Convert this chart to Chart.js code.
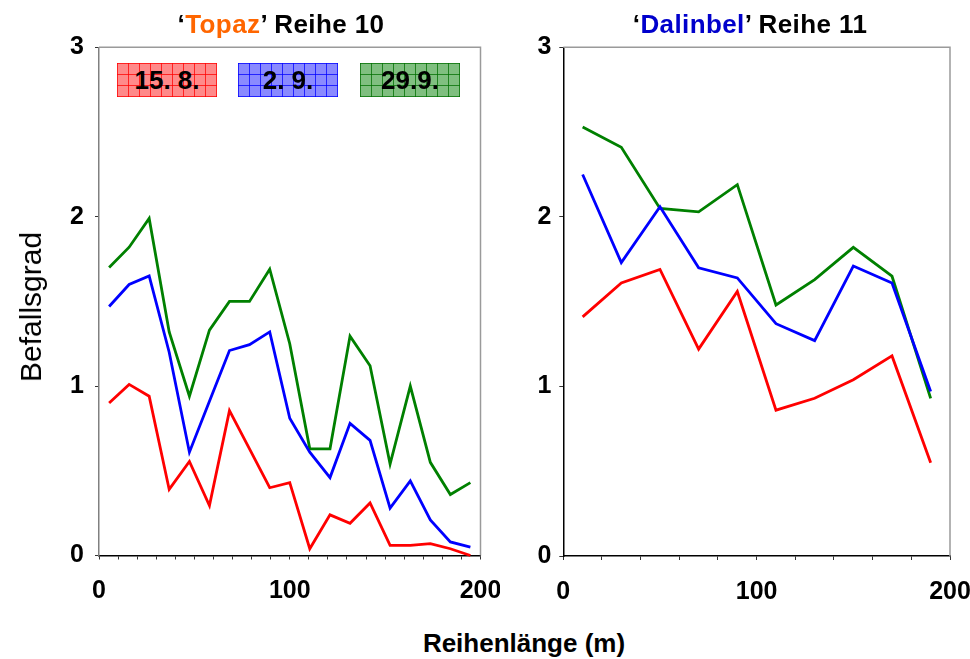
<!DOCTYPE html>
<html>
<head>
<meta charset="utf-8">
<script src="https://cdn.jsdelivr.net/npm/chart.js@4.4.1/dist/chart.umd.min.js"></script>
<style>
  html, body { margin:0; padding:0; background:#fff; }
  body { width:970px; height:659px; position:relative; overflow:hidden; font-family:"Liberation Sans", Arial, Helvetica, sans-serif; }
  .cv { position:absolute; top:0; }
  .title { position:absolute; top:11px; font-weight:bold; font-size:26px; line-height:26px; letter-spacing:0.4px; text-align:center; white-space:nowrap; color:#000; }
  .xtitle { position:absolute; left:324px; width:400px; top:630px; font-weight:bold; font-size:26px; line-height:26px; text-align:center; color:#000; }
  .ytitle { position:absolute; left:31px; top:307px; transform:translate(-50%,-50%) rotate(-90deg); font-size:30px; line-height:30px; white-space:nowrap; color:#000; }
  .leg { position:absolute; top:63px; width:100px; height:34px; font-weight:bold; font-size:26px; line-height:35px; text-align:center; color:#000; background-size:11px 11px; }
</style>
</head>
<body>
<div class="cv" style="left:0;width:500px;height:620px;"><canvas id="c1" width="500" height="620"></canvas></div>
<div class="cv" style="left:485px;width:485px;height:620px;"><canvas id="c2" width="485" height="620"></canvas></div>

<div class="title" style="left:131px;width:300px;">‘<span style="color:#ff6600">Topaz</span>’ Reihe 10</div>
<div class="title" style="left:600px;width:300px;">‘<span style="color:#0000cc">Dalinbel</span>’ Reihe 11</div>
<div class="ytitle">Befallsgrad</div>
<div class="xtitle">Reihenlänge (m)</div>

<div class="leg" id="l1" style="left:117px;background-color:#ff8a8a;background-image:linear-gradient(to right, rgba(255,0,0,0.75) 1px, transparent 1px),linear-gradient(to bottom, rgba(255,0,0,0.75) 1px, transparent 1px);"></div>
<div class="leg" id="l2" style="left:238px;background-color:#8a8aff;background-image:linear-gradient(to right, rgba(0,0,255,0.75) 1px, transparent 1px),linear-gradient(to bottom, rgba(0,0,255,0.75) 1px, transparent 1px);"></div>
<div class="leg" id="l3" style="left:360px;background-color:#80bf80;background-image:linear-gradient(to right, rgba(0,110,0,0.75) 1px, transparent 1px),linear-gradient(to bottom, rgba(0,110,0,0.75) 1px, transparent 1px);"></div>

<script>
// ---- data ----
const seriesLabels = ["15. 8.", "2. 9.", "29.9."];
const seriesColors = ["#ff0000", "#0000ff", "#008000"];

const xTopaz = [5.3, 15.8, 26.3, 36.8, 47.4, 57.9, 68.4, 78.9, 89.5, 100, 110.5, 121.1, 131.6, 142.1, 152.6, 163.2, 173.7, 184.2, 194.7];
const topaz_15_8 = [0.90, 1.01, 0.94, 0.39, 0.555, 0.295, 0.855, 0.63, 0.40, 0.43, 0.04, 0.24, 0.19, 0.31, 0.06, 0.06, 0.07, 0.04, 0.00];
const topaz_2_9  = [1.47, 1.60, 1.65, 1.20, 0.61, 0.91, 1.21, 1.245, 1.32, 0.81, 0.61, 0.46, 0.78, 0.68, 0.28, 0.44, 0.21, 0.08, 0.05];
const topaz_29_9 = [1.70, 1.82, 1.99, 1.32, 0.94, 1.33, 1.50, 1.50, 1.69, 1.25, 0.63, 0.63, 1.295, 1.12, 0.54, 1.00, 0.55, 0.36, 0.43];

const xDalinbel = [10, 30, 50, 70, 90, 110, 130, 150, 170, 190];
const dalinbel_15_8 = [1.41, 1.61, 1.69, 1.22, 1.56, 0.86, 0.93, 1.04, 1.18, 0.55];
const dalinbel_2_9  = [2.25, 1.73, 2.06, 1.70, 1.64, 1.37, 1.27, 1.71, 1.61, 0.97];
const dalinbel_29_9 = [2.53, 2.41, 2.05, 2.03, 2.19, 1.48, 1.63, 1.82, 1.65, 0.93];

const yTicks = [0, 1, 2, 3];
const xLabelTicks = [0, 100, 200];

// ---- legend text ----
document.getElementById('l1').textContent = seriesLabels[0];
document.getElementById('l2').textContent = seriesLabels[1];
document.getElementById('l3').textContent = seriesLabels[2];

const FONT = '"Liberation Sans", Arial, Helvetica, sans-serif';

function pts(xs, ys) { return xs.map((x, i) => ({ x: x, y: ys[i] })); }

const framePlugin = {
  id: 'frame',
  beforeDatasetsDraw(chart) {
    const a = chart.chartArea, ctx = chart.ctx;
    ctx.save();
    ctx.strokeStyle = '#9a9a9a';
    ctx.lineWidth = 1.5;
    ctx.beginPath();
    ctx.moveTo(a.left, a.top);
    ctx.lineTo(a.right, a.top);
    ctx.lineTo(a.right, a.bottom);
    ctx.stroke();
    ctx.restore();
  }
};

function makeChart(id, xs, s1, s2, s3, opts) {
  const ds = [s1, s2, s3].map((s, i) => ({
    label: seriesLabels[i],
    data: pts(xs, s),
    borderColor: seriesColors[i],
    backgroundColor: seriesColors[i],
    borderWidth: 2.8,
    pointRadius: 0,
    tension: 0,
    fill: false,
    clip: false
  }));
  return new Chart(document.getElementById(id), {
    type: 'line',
    data: { datasets: ds },
    plugins: [framePlugin],
    options: {
      responsive: false,
      animation: false,
      events: [],
      layout: { padding: { left: 0, right: opts.padRight, top: opts.padTop, bottom: 0 } },
      plugins: { legend: { display: false }, tooltip: { enabled: false }, title: { display: false } },
      scales: {
        x: {
          type: 'linear', min: 0, max: 200,
          afterFit: s => { s.height = opts.xHeight; s.paddingLeft = 0; s.paddingRight = 0; },
          afterBuildTicks: s => { const t = []; for (let v = 0; v <= 200; v += opts.xStep) t.push({ value: v }); s.ticks = t; },
          ticks: {
            autoSkip: false, maxRotation: 0,
            callback: v => (xLabelTicks.includes(v) ? String(v) : ''),
            font: { family: FONT, size: 25, weight: 'bold' }, color: '#000', padding: 17
          },
          grid: { display: true, drawOnChartArea: false, drawTicks: true, tickLength: 4, tickColor: '#333', tickWidth: 1 },
          border: { display: true, color: '#000', width: 1.5 }
        },
        y: {
          type: 'linear', min: 0, max: 3,
          afterFit: s => { s.width = opts.yWidth; s.paddingTop = 0; s.paddingBottom = 0; },
          afterBuildTicks: s => { s.ticks = yTicks.map(v => ({ value: v })); },
          ticks: {
            font: { family: FONT, size: 25, weight: 'bold' }, color: '#000', padding: opts.yPad,
            callback: v => String(v)
          },
          grid: { display: true, drawOnChartArea: false, drawTicks: true, tickLength: 4, tickColor: '#333', tickWidth: 1 },
          border: { display: true, color: opts.yAxisColor, width: 1.5 }
        }
      }
    }
  });
}

makeChart('c1', xTopaz, topaz_15_8, topaz_2_9, topaz_29_9,
  { padRight: 19.5, padTop: 47.3, xHeight: 64.5, yWidth: 99, xStep: 10, yPad: 11, yAxisColor: '#808080' });
makeChart('c2', xDalinbel, dalinbel_15_8, dalinbel_2_9, dalinbel_29_9,
  { padRight: 20, padTop: 47.3, xHeight: 64, yWidth: 78.3, xStep: 20, yPad: 8, yAxisColor: '#000' });
</script>
</body>
</html>
